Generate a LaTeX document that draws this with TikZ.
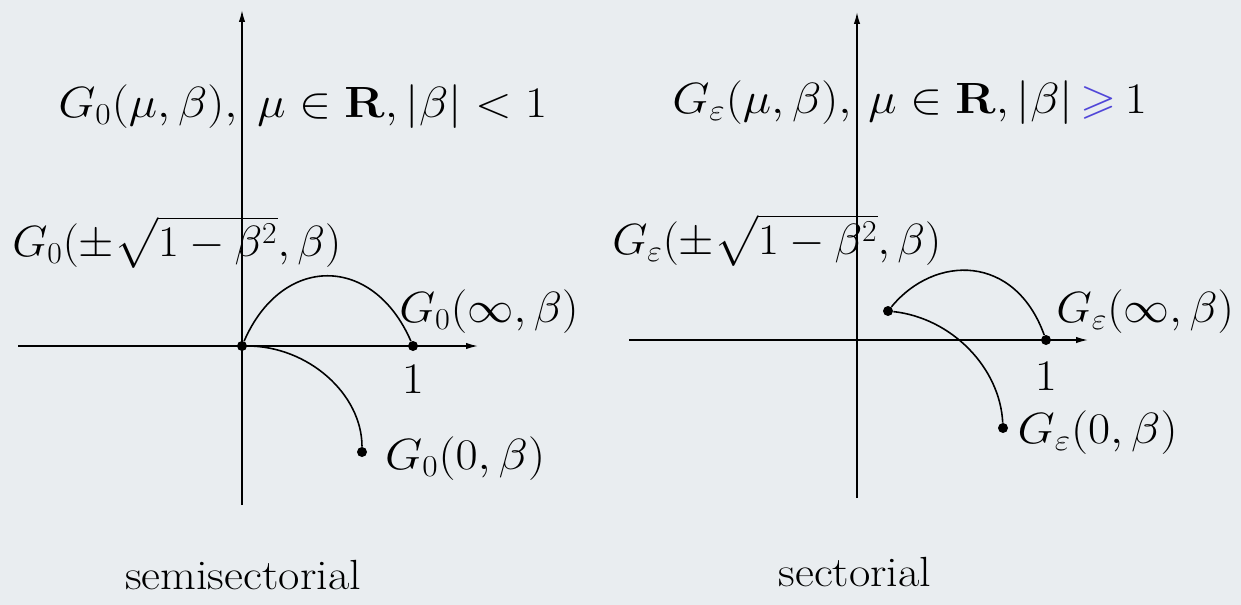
\documentclass[tikz,border=0pt]{standalone}
\usepackage{amsmath,amssymb}
\usepackage{xcolor}
\usetikzlibrary{arrows.meta,positioning}
\definecolor{paper}{HTML}{E9EDF0}
\definecolor{penblue}{HTML}{5046D8}
% the scanned type runs a little wide
\newcommand{\wtext}[2][1.1]{\scalebox{#1}[1]{#2}}

\begin{document}
\begin{tikzpicture}[
  x=0.02cm,y=-0.02cm,
  font=\fontsize{24}{28}\selectfont,
  axis/.style={-{Latex[length=2.4mm,width=1.3mm]},line width=0.9pt},
  curve/.style={line width=0.9pt},
  dot/.style={circle,fill,inner sep=0pt,minimum size=2mm},
  lbl/.style={inner sep=0pt}
]
\fill[paper] (0,0) rectangle (1241,605);
\useasboundingbox (0,0) rectangle (1241,605);

% semisectorial
\coordinate (xLa) at (18,346);
\coordinate (xLb) at (478,346);
\coordinate (yLa) at (242,505);
\coordinate (yLb) at (242,10);
\draw[axis] (xLa) -- (xLb);
\draw[axis] (yLa) -- (yLb);
\node[dot] (origL) at (242,346) {};
\node[dot] (oneL) at (413,346) {};
\node[dot] (endL) at (362,452) {};
\draw[curve] (origL) .. controls (282,254) and (373,254) .. (oneL);
\draw[curve] (origL) .. controls (308,346) and (362,394) .. (endL);
\node[lbl,anchor=west] (titleL) at (58,107) {\wtext{$G_0(\mu,\beta),$}};
\node[lbl,anchor=west] (condL) at (257,107) {\wtext{$\mu\in\mathbf{R},|\beta|<1$}};
\node[lbl,anchor=west] (rootL) at (12,242) {\wtext[1.04]{$G_0(\pm\sqrt{1-\beta^2},\beta)$}};
\node[lbl,anchor=west] (infL) at (399,312) {\wtext[1.06]{$G_0(\infty,\beta)$}};
\node[lbl,below=2.7mm of oneL] (unitL) {\wtext{$1$}};
\node[lbl,right=3.5mm of endL,yshift=-1.4mm] (zeroL) {\wtext{$G_0(0,\beta)$}};
\node[lbl] (capL) at (243,575) {\wtext{semisectorial}};

% sectorial
\coordinate (xRa) at (629,340);
\coordinate (xRb) at (1088,340);
\coordinate (yRa) at (857,498);
\coordinate (yRb) at (857,12);
\draw[axis] (xRa) -- (xRb);
\draw[axis] (yRa) -- (yRb);
\node[dot] (startR) at (888,311) {};
\node[dot] (oneR) at (1046,340) {};
\node[dot] (endR) at (1003,428) {};
\draw[curve] (startR) .. controls (935,254) and (1015,254) .. (oneR);
\draw[curve] (startR) .. controls (952,318) and (1000,368) .. (endR);
\node[lbl,anchor=west] (titleR) at (672,103) {\wtext{$G_\varepsilon(\mu,\beta),$}};
\node[lbl,anchor=west] (condR) at (868,103) {\wtext{$\mu\in\mathbf{R},|\beta|\,{\color{penblue}\geqslant}\,1$}};
\node[lbl,anchor=west] (rootR) at (612,240) {\wtext[1.04]{$G_\varepsilon(\pm\sqrt{1-\beta^2},\beta)$}};
\node[lbl,anchor=west] (infR) at (1056,312) {\wtext[1.05]{$G_\varepsilon(\infty,\beta)$}};
\node[lbl,below=3.3mm of oneR] (unitR) {\wtext{$1$}};
\node[lbl,right=1.8mm of endR,yshift=-1mm] (zeroR) {\wtext{$G_\varepsilon(0,\beta)$}};
\node[lbl] (capR) at (855,572) {\wtext{sectorial}};
\end{tikzpicture}
\end{document}
